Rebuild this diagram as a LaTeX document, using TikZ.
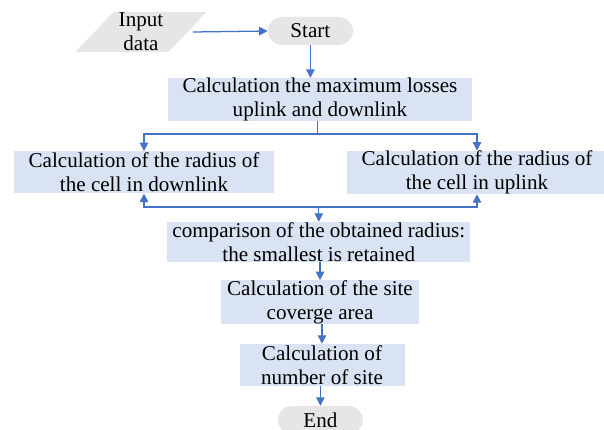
\documentclass[tikz,border=0pt]{standalone}
\usepackage{fontspec}
\setmainfont{Liberation Serif}
\usepackage{xcolor}
\usepackage{tikz}
\usetikzlibrary{arrows.meta, calc, shapes.geometric}

\definecolor{boxblue}{HTML}{DAE3F3}
\definecolor{termgray}{HTML}{E7E6E6}
\definecolor{linkblue}{HTML}{4472C4}

\tikzset{
  stepbox/.style={fill=boxblue, inner sep=0pt, align=center, minimum height=1.05cm},
  termbox/.style={fill=termgray, rounded corners=0.35cm, inner sep=0pt,
    minimum width=2.125cm, minimum height=0.7cm},
  iobox/.style={fill=termgray, trapezium, trapezium left angle=51,
    trapezium right angle=129, trapezium stretches=true, inner sep=0pt,
    minimum width=3.3cm, minimum height=1.0cm, align=center},
  link/.style={linkblue, line width=0.9pt},
}

\begin{document}
\begin{tikzpicture}[>={Triangle[length=6pt,width=6pt]},
  font=\rmfamily\fontsize{15}{17}\selectfont]

\useasboundingbox (0,0) rectangle (15.1,-10.75);

%-- terminals and input
\node[iobox]   (inp)   at (3.525,-0.8)  {Input\\data};
\node[termbox] (start) at (7.76,-0.775) {Start};
\node[termbox] (fin)   at (8.01,-10.5)  {End};

%-- process boxes
\node[stepbox, minimum width=7.6cm]   (loss) at (8.0,-2.49)
  {Calculation the maximum losses\\uplink and downlink};
\node[stepbox, minimum width=6.5cm]   (down) at (3.6,-4.31)
  {Calculation of the radius of\\the cell in downlink};
\node[stepbox, minimum width=6.5cm]   (up)   at (11.925,-4.31)
  {Calculation of the radius of\\the cell in uplink};
\node[stepbox, minimum width=7.575cm, minimum height=1.0cm] (cmp) at (7.97,-6.05)
  {comparison of the obtained radius:\\the smallest is retained};
\node[stepbox, minimum width=4.95cm]  (site) at (8.0,-7.55)
  {Calculation of the site\\coverge area};
\node[stepbox, minimum width=4.125cm] (num)  at (8.05,-9.125)
  {Calculation of\\number of site};

%-- split and merge points
\coordinate (jt) at (7.93,-3.35);
\coordinate (jb) at (7.97,-5.175);

\draw[link,->] ($(inp.east)+(0.12,0)$) -- (start.west);
\draw[link,->] (start.south) -- (start.south |- loss.north);
\draw[link] (loss.south -| jt) -- (jt);
\foreach \b in {down,up}
  \draw[link,->] (jt) -| (\b.north);
\foreach \b in {down,up}
  \draw[link,->] (jb) -| (\b.south);
\draw[link,->] (jb) -- (jb |- cmp.north);
\draw[link,->] (cmp.south -| site.north) -- (site.north);
\draw[link,->] (site.south -| num.north) -- (num.north);
\draw[link,->] (num.south -| fin.north) -- (fin.north);

\end{tikzpicture}
\end{document}
